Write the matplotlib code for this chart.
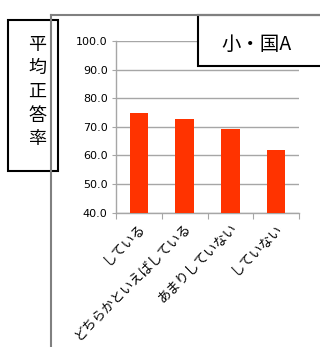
import matplotlib
matplotlib.use("Agg")
import matplotlib.pyplot as plt
from matplotlib.patches import Rectangle
from matplotlib.lines import Line2D

plt.rcParams['font.family'] = ['Noto Sans CJK JP', 'DejaVu Sans']

categories = ["している", "どちらかといえばしている", "あまりしていない", "していない"]
values = [74.7, 72.7, 69.2, 61.9]
yticks = [40.0, 50.0, 60.0, 70.0, 80.0, 90.0, 100.0]
title = "小・国A"
ylabel = "平均正答率"

W, H = 320, 347
fig = plt.figure(figsize=(W / 100, H / 100), dpi=100)


def fx(px):
    return px / W


def fy(py):
    return 1 - py / H


ax = fig.add_axes([fx(116), fy(212.7), fx(299) - fx(116), fy(41) - fy(212.7)])
x = list(range(len(categories)))
ax.bar(x, values, width=0.4, color="#ff3300", zorder=3)
ax.set_xlim(-0.5, len(categories) - 0.5)
ax.set_ylim(40, 100)
ax.set_yticks(yticks)
ax.set_yticklabels([f"{v:.1f}" for v in yticks], family="DejaVu Sans", fontsize=8)
ax.yaxis.grid(True, color="#a6a6a6", linewidth=1, zorder=0)
ax.set_xticks([i - 0.5 for i in range(len(categories) + 1)])
ax.set_xticklabels([])
ax.set_xticks(x, minor=True)
ax.set_xticklabels(categories, minor=True, rotation=45, ha="right", va="top",
                   rotation_mode="anchor", fontsize=9.5)
ax.tick_params(axis="x", which="minor", length=0, pad=6)
ax.tick_params(axis="x", which="major", length=4, color="#a6a6a6", direction="out")
ax.tick_params(axis="y", length=3, color="#a6a6a6", pad=3)
for s in ["top", "right"]:
    ax.spines[s].set_visible(False)
for s in ["left", "bottom"]:
    ax.spines[s].set_color("#a6a6a6")
    ax.spines[s].set_linewidth(1)

# outer frame
fig.add_artist(Line2D([fx(51), fx(51)], [fy(15), 0], color="#808080", lw=1.5))
fig.add_artist(Line2D([fx(51), 1], [fy(15), fy(15)], color="#808080", lw=1.5))

# y label box
fig.add_artist(Rectangle((fx(8), fy(171)), fx(58) - fx(8), fy(20) - fy(171),
                         facecolor="white", edgecolor="black", lw=1.5))
ys = [45, 68, 92, 116, 139]
for ch, yy in zip(ylabel, ys):
    fig.text(fx(37.5), fy(yy), ch, ha="center", va="center", fontsize=13)

# title box
fig.add_artist(Rectangle((fx(198), fy(66)), fx(330) - fx(198), fy(15) - fy(66),
                         facecolor="white", edgecolor="black", lw=1.5))
fig.text(fx(257), fy(44), title, ha="center", va="center", fontsize=14)

fig.savefig("out.png", dpi=100)
